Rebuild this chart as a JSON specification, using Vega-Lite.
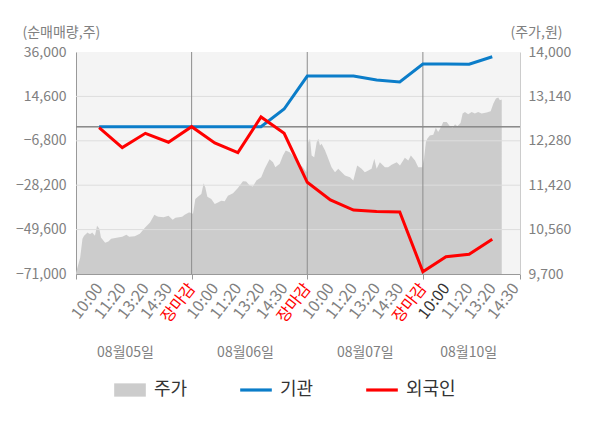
{
  "$schema": "https://vega.github.io/schema/vega-lite/v6.json",
  "width": 444,
  "height": 222,
  "autosize": {"type": "none"},
  "padding": {"left": 76, "top": 52, "right": 80, "bottom": 154},
  "background": "white",
  "config": {
    "view": {"fill": "#f4f4f4", "stroke": null},
    "font": "Noto Sans CJK KR",
    "axis": {"labelFont": "Noto Sans CJK KR", "titleFont": "Noto Sans CJK KR"}
  },
  "datasets": {
    "price": [
      {"t": 0.0, "p": 9720}, {"t": 0.06, "p": 9823}, {"t": 0.18, "p": 10017}, {"t": 0.28, "p": 10381},
      {"t": 0.35, "p": 10439}, {"t": 0.5, "p": 10504}, {"t": 0.57, "p": 10478}, {"t": 0.64, "p": 10478},
      {"t": 0.7, "p": 10504}, {"t": 0.82, "p": 10440}, {"t": 0.91, "p": 10634}, {"t": 1.01, "p": 10576},
      {"t": 1.08, "p": 10406}, {"t": 1.26, "p": 10303}, {"t": 1.4, "p": 10330}, {"t": 1.52, "p": 10381},
      {"t": 1.81, "p": 10406}, {"t": 2.0, "p": 10420}, {"t": 2.18, "p": 10459}, {"t": 2.3, "p": 10420},
      {"t": 2.54, "p": 10430}, {"t": 2.76, "p": 10478}, {"t": 2.98, "p": 10595}, {"t": 3.2, "p": 10698},
      {"t": 3.39, "p": 10848}, {"t": 3.5, "p": 10820}, {"t": 3.57, "p": 10809}, {"t": 3.79, "p": 10800},
      {"t": 4.0, "p": 10829}, {"t": 4.18, "p": 10751}, {"t": 4.3, "p": 10790}, {"t": 4.59, "p": 10809},
      {"t": 4.7, "p": 10848}, {"t": 4.88, "p": 10893}, {"t": 4.92, "p": 10893},
      {"t": 5.06, "p": 10867}, {"t": 5.16, "p": 11153}, {"t": 5.27, "p": 11198}, {"t": 5.42, "p": 11251},
      {"t": 5.52, "p": 11457}, {"t": 5.59, "p": 11379}, {"t": 5.68, "p": 11198}, {"t": 5.85, "p": 11153},
      {"t": 6.0, "p": 11056}, {"t": 6.14, "p": 11087}, {"t": 6.28, "p": 11120}, {"t": 6.43, "p": 11107},
      {"t": 6.57, "p": 11218}, {"t": 6.79, "p": 11262}, {"t": 7.0, "p": 11367}, {"t": 7.22, "p": 11496},
      {"t": 7.36, "p": 11490}, {"t": 7.51, "p": 11412}, {"t": 7.65, "p": 11393}, {"t": 7.8, "p": 11510},
      {"t": 8.01, "p": 11574}, {"t": 8.16, "p": 11737}, {"t": 8.37, "p": 11924}, {"t": 8.52, "p": 11866},
      {"t": 8.62, "p": 11768}, {"t": 8.81, "p": 11834}, {"t": 8.95, "p": 11996}, {"t": 9.07, "p": 12093},
      {"t": 9.24, "p": 12060}, {"t": 9.43, "p": 11963}, {"t": 9.6, "p": 11866}, {"t": 9.81, "p": 11768},
      {"t": 9.96, "p": 11671},
      {"t": 10.04, "p": 12255}, {"t": 10.12, "p": 12321}, {"t": 10.19, "p": 11996}, {"t": 10.3, "p": 11963},
      {"t": 10.41, "p": 12255}, {"t": 10.48, "p": 12321}, {"t": 10.55, "p": 12191}, {"t": 10.62, "p": 12224},
      {"t": 10.77, "p": 12093}, {"t": 10.91, "p": 11932}, {"t": 11.05, "p": 11768}, {"t": 11.2, "p": 11671},
      {"t": 11.34, "p": 11737}, {"t": 11.49, "p": 11671}, {"t": 11.63, "p": 11607}, {"t": 11.85, "p": 11574},
      {"t": 11.99, "p": 11510}, {"t": 12.16, "p": 11801}, {"t": 12.35, "p": 11737}, {"t": 12.49, "p": 11671},
      {"t": 12.64, "p": 11704}, {"t": 12.78, "p": 11737}, {"t": 12.9, "p": 11932}, {"t": 13.0, "p": 11737},
      {"t": 13.14, "p": 11866}, {"t": 13.36, "p": 11768}, {"t": 13.5, "p": 11768}, {"t": 13.65, "p": 11815},
      {"t": 13.87, "p": 11866}, {"t": 14.01, "p": 11801}, {"t": 14.22, "p": 11951}, {"t": 14.37, "p": 11899},
      {"t": 14.48, "p": 11996}, {"t": 14.66, "p": 11899}, {"t": 14.8, "p": 11768}, {"t": 14.97, "p": 11768},
      {"t": 15.05, "p": 11932}, {"t": 15.13, "p": 12255}, {"t": 15.19, "p": 12321}, {"t": 15.3, "p": 12385},
      {"t": 15.45, "p": 12398}, {"t": 15.56, "p": 12535}, {"t": 15.66, "p": 12449}, {"t": 15.77, "p": 12535},
      {"t": 15.88, "p": 12644}, {"t": 16.03, "p": 12644}, {"t": 16.17, "p": 12560}, {"t": 16.29, "p": 12535},
      {"t": 16.39, "p": 12599}, {"t": 16.49, "p": 12560}, {"t": 16.63, "p": 12624}, {"t": 16.72, "p": 12807},
      {"t": 16.82, "p": 12838}, {"t": 16.96, "p": 12794}, {"t": 17.11, "p": 12838}, {"t": 17.25, "p": 12807},
      {"t": 17.39, "p": 12838}, {"t": 17.54, "p": 12807}, {"t": 17.76, "p": 12827}, {"t": 17.93, "p": 12852},
      {"t": 18.05, "p": 13002}, {"t": 18.16, "p": 13099}, {"t": 18.26, "p": 13119}, {"t": 18.33, "p": 13066},
      {"t": 18.41, "p": 13080}
    ],
    "flow": [
      {"t": 1, "series": "기관", "v": 0}, {"t": 2, "series": "기관", "v": 0}, {"t": 3, "series": "기관", "v": 0},
      {"t": 4, "series": "기관", "v": 0}, {"t": 5, "series": "기관", "v": 0}, {"t": 6, "series": "기관", "v": 0},
      {"t": 7, "series": "기관", "v": 0}, {"t": 8, "series": "기관", "v": 0}, {"t": 9, "series": "기관", "v": 8500},
      {"t": 10, "series": "기관", "v": 24400}, {"t": 11, "series": "기관", "v": 24400}, {"t": 12, "series": "기관", "v": 24400},
      {"t": 13, "series": "기관", "v": 22500}, {"t": 14, "series": "기관", "v": 21600}, {"t": 15, "series": "기관", "v": 30200},
      {"t": 16, "series": "기관", "v": 30200}, {"t": 17, "series": "기관", "v": 30100}, {"t": 18, "series": "기관", "v": 33700},
      {"t": 1, "series": "외국인", "v": -500}, {"t": 2, "series": "외국인", "v": -10100}, {"t": 3, "series": "외국인", "v": -3200},
      {"t": 4, "series": "외국인", "v": -7500}, {"t": 5, "series": "외국인", "v": 0}, {"t": 6, "series": "외국인", "v": -7800},
      {"t": 7, "series": "외국인", "v": -12500}, {"t": 8, "series": "외국인", "v": 4700}, {"t": 9, "series": "외국인", "v": -3200},
      {"t": 10, "series": "외국인", "v": -26800}, {"t": 11, "series": "외국인", "v": -35300}, {"t": 12, "series": "외국인", "v": -40200},
      {"t": 13, "series": "외국인", "v": -40900}, {"t": 14, "series": "외국인", "v": -41100}, {"t": 15, "series": "외국인", "v": -69900},
      {"t": 16, "series": "외국인", "v": -62700}, {"t": 17, "series": "외국인", "v": -61500}, {"t": 18, "series": "외국인", "v": -54300}
    ],
    "hgrid": [{"v": -49600}, {"v": -28200}, {"v": -6800}, {"v": 14600}],
    "vgrid": [{"t": 5}, {"t": 10}, {"t": 15}]
  },
  "layer": [
    {
      "data": {"name": "price"},
      "mark": {"type": "area", "opacity": 1, "interpolate": "linear"},
      "encoding": {
        "x": {
          "field": "t", "type": "quantitative",
          "scale": {"domain": [0, 19.2], "nice": false, "zero": false},
          "axis": {
            "orient": "bottom",
            "values": [0, 1, 2, 3, 4, 5, 6, 7, 8, 9, 10, 11, 12, 13, 14, 15, 16, 17, 18, 19, 19.2],
            "labelExpr": "datum.value === 0 || datum.value > 19.1 ? '' : datum.value % 5 === 0 ? '장마감' : ['', '10:00', '11:20', '13:20', '14:30'][datum.value % 5]",
            "labelAngle": -52, "labelAlign": "right", "labelBaseline": "middle",
            "labelPadding": 6, "labelFontSize": 16,
            "labelColor": {"condition": [{"test": "datum.value % 5 === 0", "value": "#ff0000"}, {"test": "datum.value === 16", "value": "#333333"}], "value": "#808080"},
            "labelOverlap": false, "labelFlush": false, "labelBound": false,
            "tickSize": 5, "tickColor": "#999999",
            "tickOpacity": {"condition": {"test": "datum.value % 5 === 0 || datum.value > 19.1", "value": 1}, "value": 0},
            "grid": false, "domainColor": "#999999", "title": null
          }
        },
        "y": {
          "field": "p", "type": "quantitative",
          "scale": {"domain": [9700, 14000], "nice": false, "zero": false},
          "axis": {
            "orient": "right",
            "values": [9700, 10560, 11420, 12280, 13140, 14000],
            "format": ",.0f", "ticks": false, "grid": false, "labelPadding": 8,
            "labelColor": "#808080", "labelFontSize": 14, "domainColor": "#cccccc",
            "title": "(주가,원)", "titleAngle": 0, "titleAlign": "left", "titleBaseline": "middle",
            "titleX": -10, "titleY": -20, "titleFontSize": 14, "titleFontWeight": "normal", "titleColor": "#808080"
          }
        },
        "y2": {"datum": 9700},
        "color": {"datum": "주가", "scale": {"domain": ["주가", "기관", "외국인"], "range": ["#cccccc", "#0b7dc9", "#ff0000"]}}
      }
    },
    {
      "layer": [
        {
          "data": {"name": "hgrid"},
          "mark": {"type": "rule", "color": "#dddddd", "strokeWidth": 1},
          "encoding": {"y": {"field": "v", "type": "quantitative"}}
        },
        {
          "data": {"name": "vgrid"},
          "mark": {"type": "rule", "color": "#8c8c8c", "strokeWidth": 1},
          "encoding": {"x": {"field": "t", "type": "quantitative"}}
        },
        {
          "data": {"name": "hgrid"},
          "mark": {"type": "rule", "color": "#8c8c8c", "strokeWidth": 1},
          "encoding": {"y": {"datum": 0}}
        },
        {
          "data": {"name": "flow"},
          "mark": {"type": "line", "strokeWidth": 3, "interpolate": "linear"},
          "encoding": {
            "x": {
              "field": "t", "type": "quantitative",
              "scale": {"domain": [0, 19.2], "nice": false, "zero": false},
              "axis": {
                "orient": "bottom",
                "values": [2.12, 7.31, 12.49, 16.96],
                "labelExpr": "datum.value < 5 ? '08월05일' : datum.value < 10 ? '08월06일' : datum.value < 15 ? '08월07일' : '08월10일'",
                "ticks": false, "domain": false, "grid": false, "labelAngle": 0,
                "labelPadding": 71, "labelFontSize": 14, "labelColor": "#808080",
                "labelOverlap": false, "labelFlush": false, "title": null
              }
            },
            "y": {
              "field": "v", "type": "quantitative",
              "scale": {"domain": [-71000, 36000], "nice": false, "zero": false},
              "axis": {
                "orient": "left",
                "values": [-71000, -49600, -28200, -6800, 14600, 36000],
                "format": ",.0f", "ticks": false, "grid": false, "labelPadding": 10,
                "labelColor": "#808080", "labelFontSize": 14, "domainColor": "#999999",
                "title": "(순매매량,주)", "titleAngle": 0, "titleAlign": "left", "titleBaseline": "middle",
                "titleX": -54, "titleY": -20, "titleFontSize": 14, "titleFontWeight": "normal", "titleColor": "#808080"
              }
            },
            "color": {
              "field": "series", "type": "nominal",
              "scale": {"domain": ["주가", "기관", "외국인"], "range": ["#cccccc", "#0b7dc9", "#ff0000"]},
              "legend": {
                "orient": "none", "legendX": 38, "legendY": 322, "direction": "horizontal", "title": null,
                "symbolSize": 1000, "symbolType": "M-1,-0.42H1V0.42H-1Z", "labelOffset": 8, "columnPadding": 52,
                "labelFontSize": 18, "labelColor": "#333333", "labelFont": "Noto Sans CJK KR",
                "encode": {
                  "symbols": {
                    "update": {
                      "shape": {"signal": "datum.value === '주가' ? 'M-1,-0.42H1V0.42H-1Z' : 'M-1,-0.1H1V0.1H-1Z'"},
                      "fill": {"signal": "scale('color', datum.value)"},
                      "fillOpacity": {"value": 1},
                      "stroke": {"value": "transparent"},
                      "strokeWidth": {"value": 0},
                      "opacity": {"value": 1}
                    }
                  }
                }
              }
            }
          }
        }
      ]
    }
  ],
  "resolve": {"scale": {"y": "independent"}, "axis": {"x": "independent"}}
}
